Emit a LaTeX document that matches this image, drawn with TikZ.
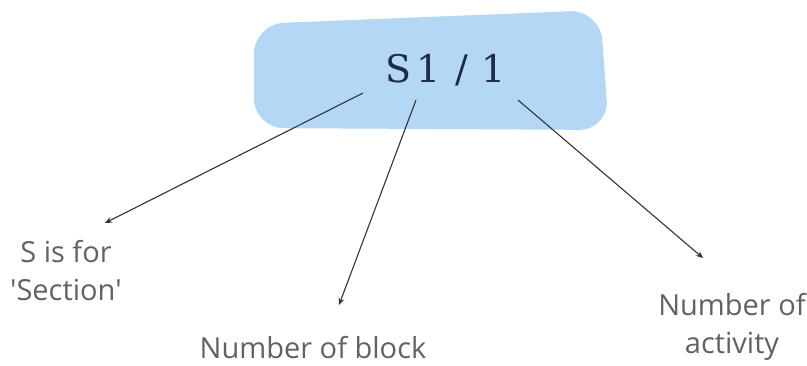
\documentclass[tikz,border=0pt]{standalone}
\usepackage{fontspec}
\setmainfont{Open Sans}
\usepackage{tikz}
\usetikzlibrary{arrows.meta}
\definecolor{blobblue}{HTML}{B3D7F5}
\definecolor{codenavy}{HTML}{1B2A4E}
\definecolor{labelgray}{HTML}{626262}
\tikzset{blob/.style={fill=blobblue,rounded corners=30pt}}
\tikzset{code/.style={text=codenavy,font=\fontsize{38}{42}\selectfont}}
\tikzset{label/.style={text=labelgray,align=center,
                       font=\fontsize{29}{38}\selectfont}}
\tikzset{pointer/.style={draw=black!80,line width=1.1pt,
                         -{Stealth[length=7pt,width=6pt]}}}

\begin{document}
\begin{tikzpicture}[x=1pt,y=-1pt]
    \useasboundingbox (0,0) rectangle (807,365);

    % the highlight behind the code
    \fill[blob] (254,24) -- (600,10) -- (609,130) -- (254,128) -- cycle;

    % code
    \node[code] (code) at (446,70)
        {\fontspec{DejaVu Serif}S\kern5pt1\hspace{14pt}/\hspace{14pt}1};

    % labels
    \node[label] (section) at (66,271) {S is for\\\textquotesingle Section\textquotesingle};
    \node[label] (block) at (313,348) {Number of block};
    \node[label] (activity) at (732,327) {Number of\\activity};

    % start and end points
    \coordinate (s1) at (363,93);
    \coordinate (s2) at (416,100);
    \coordinate (s3) at (518,100);
    \coordinate (e1) at (105,223);
    \coordinate (e2) at (339,305);
    \coordinate (e3) at (703,258);

    \draw[pointer] (s1) -- (e1);
    \draw[pointer] (s2) -- (e2);
    \draw[pointer] (s3) -- (e3);
\end{tikzpicture}
\end{document}
